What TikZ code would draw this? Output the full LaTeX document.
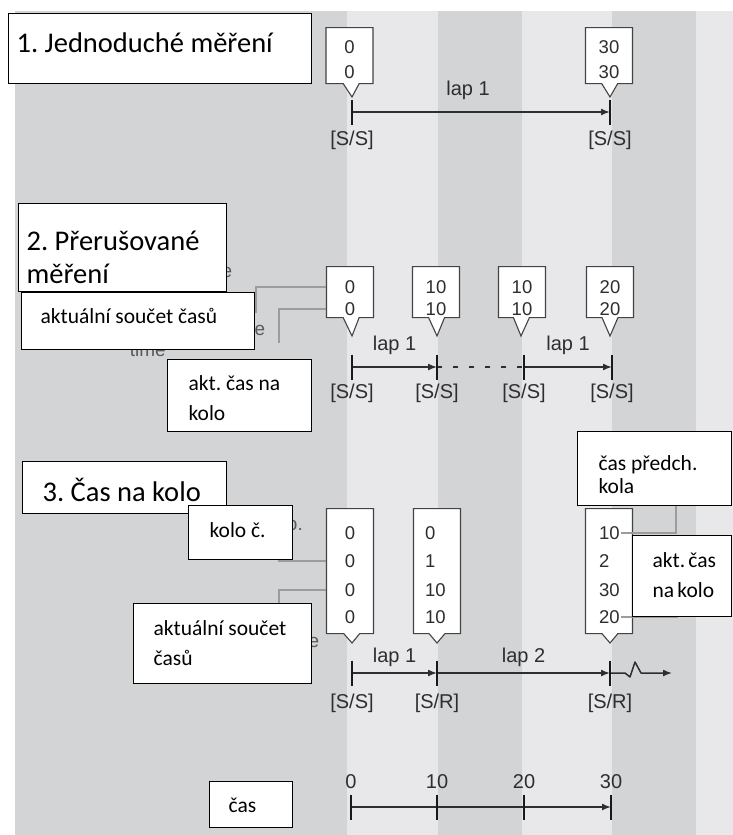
\documentclass[tikz,border=0pt]{standalone}
\usepackage{fontspec}
\setmainfont{Carlito}
\newfontfamily\chartfont{Liberation Sans}
\usetikzlibrary{positioning, arrows.meta, shapes.callouts, calc}
\definecolor{stripedark}{HTML}{D3D4D6}
\definecolor{stripelight}{HTML}{E8E8EA}
\definecolor{inkgrey}{HTML}{2E2E2E}
\definecolor{leadgrey}{HTML}{9C9C9C}
\definecolor{ghostgrey}{HTML}{5A5A5A}

\begin{document}
\begin{tikzpicture}[%
		x=1pt,
		y=-1pt,
		notebox/.style={
			rectangle,
			draw=black,
			line width=1.3pt,
			fill=white,
			anchor=north west,
			align=flush left,
			inner ysep=0pt,
			font=\fontsize{21.5}{29.5}\selectfont
		},
		titlebox/.style={
			notebox,
			font=\fontsize{28.5}{33}\selectfont
		},
		stamp/.style={
			rectangle callout,
			draw=inkgrey!90,
			line width=1.1pt,
			fill=white,
			anchor=north,
			minimum width=47pt,
			callout pointer width=16pt
		},
		digit/.style={
			font=\chartfont\fontsize{18.5}{18.5}\selectfont,
			text=inkgrey,
			inner sep=1pt
		},
		ticklabel/.style={
			font=\chartfont\fontsize{20}{20}\selectfont,
			text=inkgrey,
			inner sep=1pt
		},
		ghost/.style={
			font=\chartfont\fontsize{19}{19}\selectfont,
			text=ghostgrey,
			inner sep=0pt
		},
		lapline/.style={
			draw=inkgrey,
			line width=1.5pt,
			line join=round,
			-{Latex[length=9pt,width=7pt]}
		},
		gapline/.style={
			draw=inkgrey,
			line width=1.3pt,
			dash pattern=on 5pt off 11pt
		},
		tickmark/.style={
			draw=black!90,
			line width=2.6pt
		},
		leader/.style={
			draw=leadgrey,
			line width=1.2pt
		}
	]
		\useasboundingbox (0,0) rectangle (733,835);
		
		% BACKGROUND STRIPES
		
		\fill[white] (0,0) rectangle (733,835);
		\fill[stripedark] (15,11) rectangle (733,835);
		\foreach \a/\b in {347/438, 522/612, 696/733}
			\fill[stripelight] (\a,11) rectangle (\b,835);
		
		% LEFTOVER TEXT (under the boxes)
		
		\node[ghost, anchor=base] (ghost1) at (227,277) {e};
		\node[ghost, anchor=base] (ghost2) at (260,335) {e};
		\node[ghost, anchor=base east] (ghost3) at (166,356) {time};
		\node[ghost, anchor=base east] (ghost4) at (303,530) {o.};
		\node[ghost, anchor=base] (ghost5) at (314,647) {e};
		
		% TIME POINTS
		
		\coordinate (s1a) at (352,112);
		\coordinate (s1b) at (610,112);
		\coordinate (s2a) at (352,367);
		\coordinate (s2b) at (437,367);
		\coordinate (s2c) at (524,367);
		\coordinate (s2d) at (612,367);
		\coordinate (s3a) at (352,673);
		\coordinate (s3b) at (437,673);
		\coordinate (s3c) at (610,673);
		\coordinate (s3end) at (672,673);
		\coordinate (s4a) at (351,807);
		\coordinate (s4b) at (437,807);
		\coordinate (s4c) at (524,807);
		\coordinate (s4d) at (611,807);
		
		% 1. SIMPLE
		
		\node[stamp, minimum height=56pt, callout absolute pointer={($(s1a)+(0,-15)$)}] (c1a) at (349.5,27) {};
		\node[stamp, minimum height=56pt, callout absolute pointer={($(s1b)+(0,-15)$)}] (c1b) at (609,27) {};
		\node[digit] (c1a-1) at ($(c1a.north)+(0,20)$) {0};
		\node[digit] (c1a-2) at ($(c1a.north)+(0,45)$) {0};
		\node[digit] (c1b-1) at ($(c1b.north)+(0,20)$) {30};
		\node[digit] (c1b-2) at ($(c1b.north)+(0,45)$) {30};
		
		\draw[lapline] (s1a) -- node[ticklabel, pos=0.45, above=11pt] (lap1) {lap 1} (s1b);
		
		% 2. INTERRUPTED
		
		\node[stamp, minimum height=51pt, callout absolute pointer={($(s2a)+(0,-31)$)}] (c2a) at (350,266) {};
		\node[stamp, minimum height=51pt, callout absolute pointer={($(s2b)+(0,-31)$)}] (c2b) at (436,266) {};
		\node[stamp, minimum height=51pt, callout absolute pointer={($(s2c)+(-3,-31)$)}] (c2c) at (522,266) {};
		\node[stamp, minimum height=51pt, callout absolute pointer={($(s2d)+(-2,-31)$)}] (c2d) at (610,266) {};
		\node[digit] (c2a-1) at ($(c2a.north)+(0,21)$) {0};
		\node[digit] (c2a-2) at ($(c2a.north)+(0,43)$) {0};
		\node[digit] (c2b-1) at ($(c2b.north)+(0,21)$) {10};
		\node[digit] (c2b-2) at ($(c2b.north)+(0,43)$) {10};
		\node[digit] (c2c-1) at ($(c2c.north)+(0,21)$) {10};
		\node[digit] (c2c-2) at ($(c2c.north)+(0,43)$) {10};
		\node[digit] (c2d-1) at ($(c2d.north)+(0,21)$) {20};
		\node[digit] (c2d-2) at ($(c2d.north)+(0,43)$) {20};
		
		\draw[lapline] (s2a) -- node[ticklabel, above=11pt] (lap2a) {lap 1} (s2b);
		\draw[gapline] (s2b) -- (s2c);
		\draw[lapline] (s2c) -- node[ticklabel, above=11pt] (lap2b) {lap 1} (s2d);
		
		% 3. LAP TIME
		
		\node[stamp, minimum height=125pt, callout absolute pointer={($(s3a)+(0,-30)$)}] (c3a) at (350,508) {};
		\node[stamp, minimum height=125pt, callout absolute pointer={($(s3b)+(0,-30)$)}] (c3b) at (437,508) {};
		\node[stamp, minimum height=125pt, callout absolute pointer={($(s3c)+(0,-30)$)}] (c3c) at (609,508) {};
		\node[digit] (c3a-1) at ($(c3a.north)+(0,25)$) {0};
		\node[digit] (c3a-2) at ($(c3a.north)+(0,53)$) {0};
		\node[digit] (c3a-3) at ($(c3a.north)+(0,82)$) {0};
		\node[digit] (c3a-4) at ($(c3a.north)+(0,109)$) {0};
		\node[digit, anchor=west] (c3b-1) at ($(c3b.north)+(-13,25)$) {0};
		\node[digit, anchor=west] (c3b-2) at ($(c3b.north)+(-13,53)$) {1};
		\node[digit, anchor=west] (c3b-3) at ($(c3b.north)+(-13,82)$) {10};
		\node[digit, anchor=west] (c3b-4) at ($(c3b.north)+(-13,109)$) {10};
		\node[digit, anchor=west] (c3c-1) at ($(c3c.north)+(-11,25)$) {10};
		\node[digit, anchor=west] (c3c-2) at ($(c3c.north)+(-11,53)$) {2};
		\node[digit, anchor=west] (c3c-3) at ($(c3c.north)+(-11,82)$) {30};
		\node[digit, anchor=west] (c3c-4) at ($(c3c.north)+(-11,109)$) {20};
		
		\draw[lapline] (s3a) -- node[ticklabel, above=5pt] (lap3a) {lap 1} (s3b);
		\draw[lapline] (s3b) -- node[ticklabel, above=5pt] (lap3b) {lap 2} (s3c);
		\draw[lapline] (s3c) -- ++(15,0) -- ++(5,4) -- ++(5,-15) -- ++(6,11) -- (s3end);
		
		% 4. TIME AXIS
		
		\draw[lapline] (s4a) -- (s4d);
		\node[ticklabel, above=17pt of s4a] (n0) {0};
		\node[ticklabel, above=17pt of s4b] (n10) {10};
		\node[ticklabel, above=17pt of s4c] (n20) {20};
		\node[ticklabel, above=17pt of s4d] (n30) {30};
		
		% TICKS AND STATES
		
		\foreach \t in {s1a,s1b,s2a,s2b,s2c,s2d,s3a,s3b,s3c,s4a,s4b,s4c,s4d}
			\draw[tickmark] ($(\t)+(0,-12.5)$) -- ($(\t)+(0,12.5)$);
		
		\node[ticklabel, below=18pt of s1a] (st1a) {[S/S]};
		\node[ticklabel, below=18pt of s1b] (st1b) {[S/S]};
		\node[ticklabel, below=16pt of s2a] (st2a) {[S/S]};
		\node[ticklabel, below=16pt of s2b] (st2b) {[S/S]};
		\node[ticklabel, below=16pt of s2c] (st2c) {[S/S]};
		\node[ticklabel, below=16pt of s2d] (st2d) {[S/S]};
		\node[ticklabel, below=20pt of s3a] (st3a) {[S/S]};
		\node[ticklabel, below=20pt of s3b] (st3b) {[S/R]};
		\node[ticklabel, below=20pt of s3c] (st3c) {[S/R]};
		
		% LEADER LINES
		
		\coordinate (k2a) at (256,313);
		\coordinate (k2b) at (279,343);
		\coordinate (k3a) at (279,545);
		\coordinate (k3b) at (279,615);
		\coordinate (k3c) at (676,495);
		\coordinate (k3d) at (677,600);
		\draw[leader] (c2a.west |- c2a-1) -| (k2a);
		\draw[leader] (c2a.west |- c2a-2) -| (k2b);
		\draw[leader] (c3a.west |- c3a-2) -| (k3a);
		\draw[leader] (c3a.west |- c3a-3) -| (k3b);
		\draw[leader] (c3c-1.east) -| (k3c);
		\draw[leader] (c3c-4.east) -| (k3d);
		
		% CZECH LABEL BOXES
		
		\node[titlebox, text width=287pt, inner xsep=8pt, text height=39pt, text depth=31pt] (box1) at (8,13) {1.~Jednoduché~měření};
		\node[titlebox, text width=192pt, inner xsep=8pt, text height=47pt, text depth=41pt] (box2) at (18,203) {2.~Přerušované\\měření};
		\node[notebox, text width=195pt, inner xsep=19pt, text height=31pt, text depth=26pt] (sum2) at (21,292) {aktuální~součet~časů};
		\node[notebox, text width=102pt, inner xsep=21pt, text height=31pt, text depth=41pt] (lap2) at (167,359) {akt.~čas~na\\kolo};
		\node[titlebox, text width=164pt, inner xsep=20pt, text height=40pt, text depth=12pt] (box3) at (22,461) {3.~Čas~na~kolo};
		\node[notebox, text width=62pt, inner xsep=21pt, text height=32pt, text depth=22pt] (lapno3) at (188,505) {kolo~č.};
		\node[notebox, text width=138pt, inner xsep=20pt, text height=32pt, text depth=48pt] (sum3) at (133,603) {aktuální~součet\\časů};
		\node[notebox, font=\fontsize{21.5}{23}\selectfont, text width=112pt, inner xsep=21pt, text height=39pt, text depth=35pt] (prev3) at (577,431) {čas~předch.\\kola};
		\node[notebox, text width=59pt, inner xsep=20pt, text height=32pt, text depth=49pt] (lap3) at (632,535) {akt.~čas\\na~kolo};
		\node[notebox, text width=45pt, inner xsep=19pt, text height=31pt, text depth=15pt] (time4) at (209,781) {čas};
\end{tikzpicture}
\end{document}
